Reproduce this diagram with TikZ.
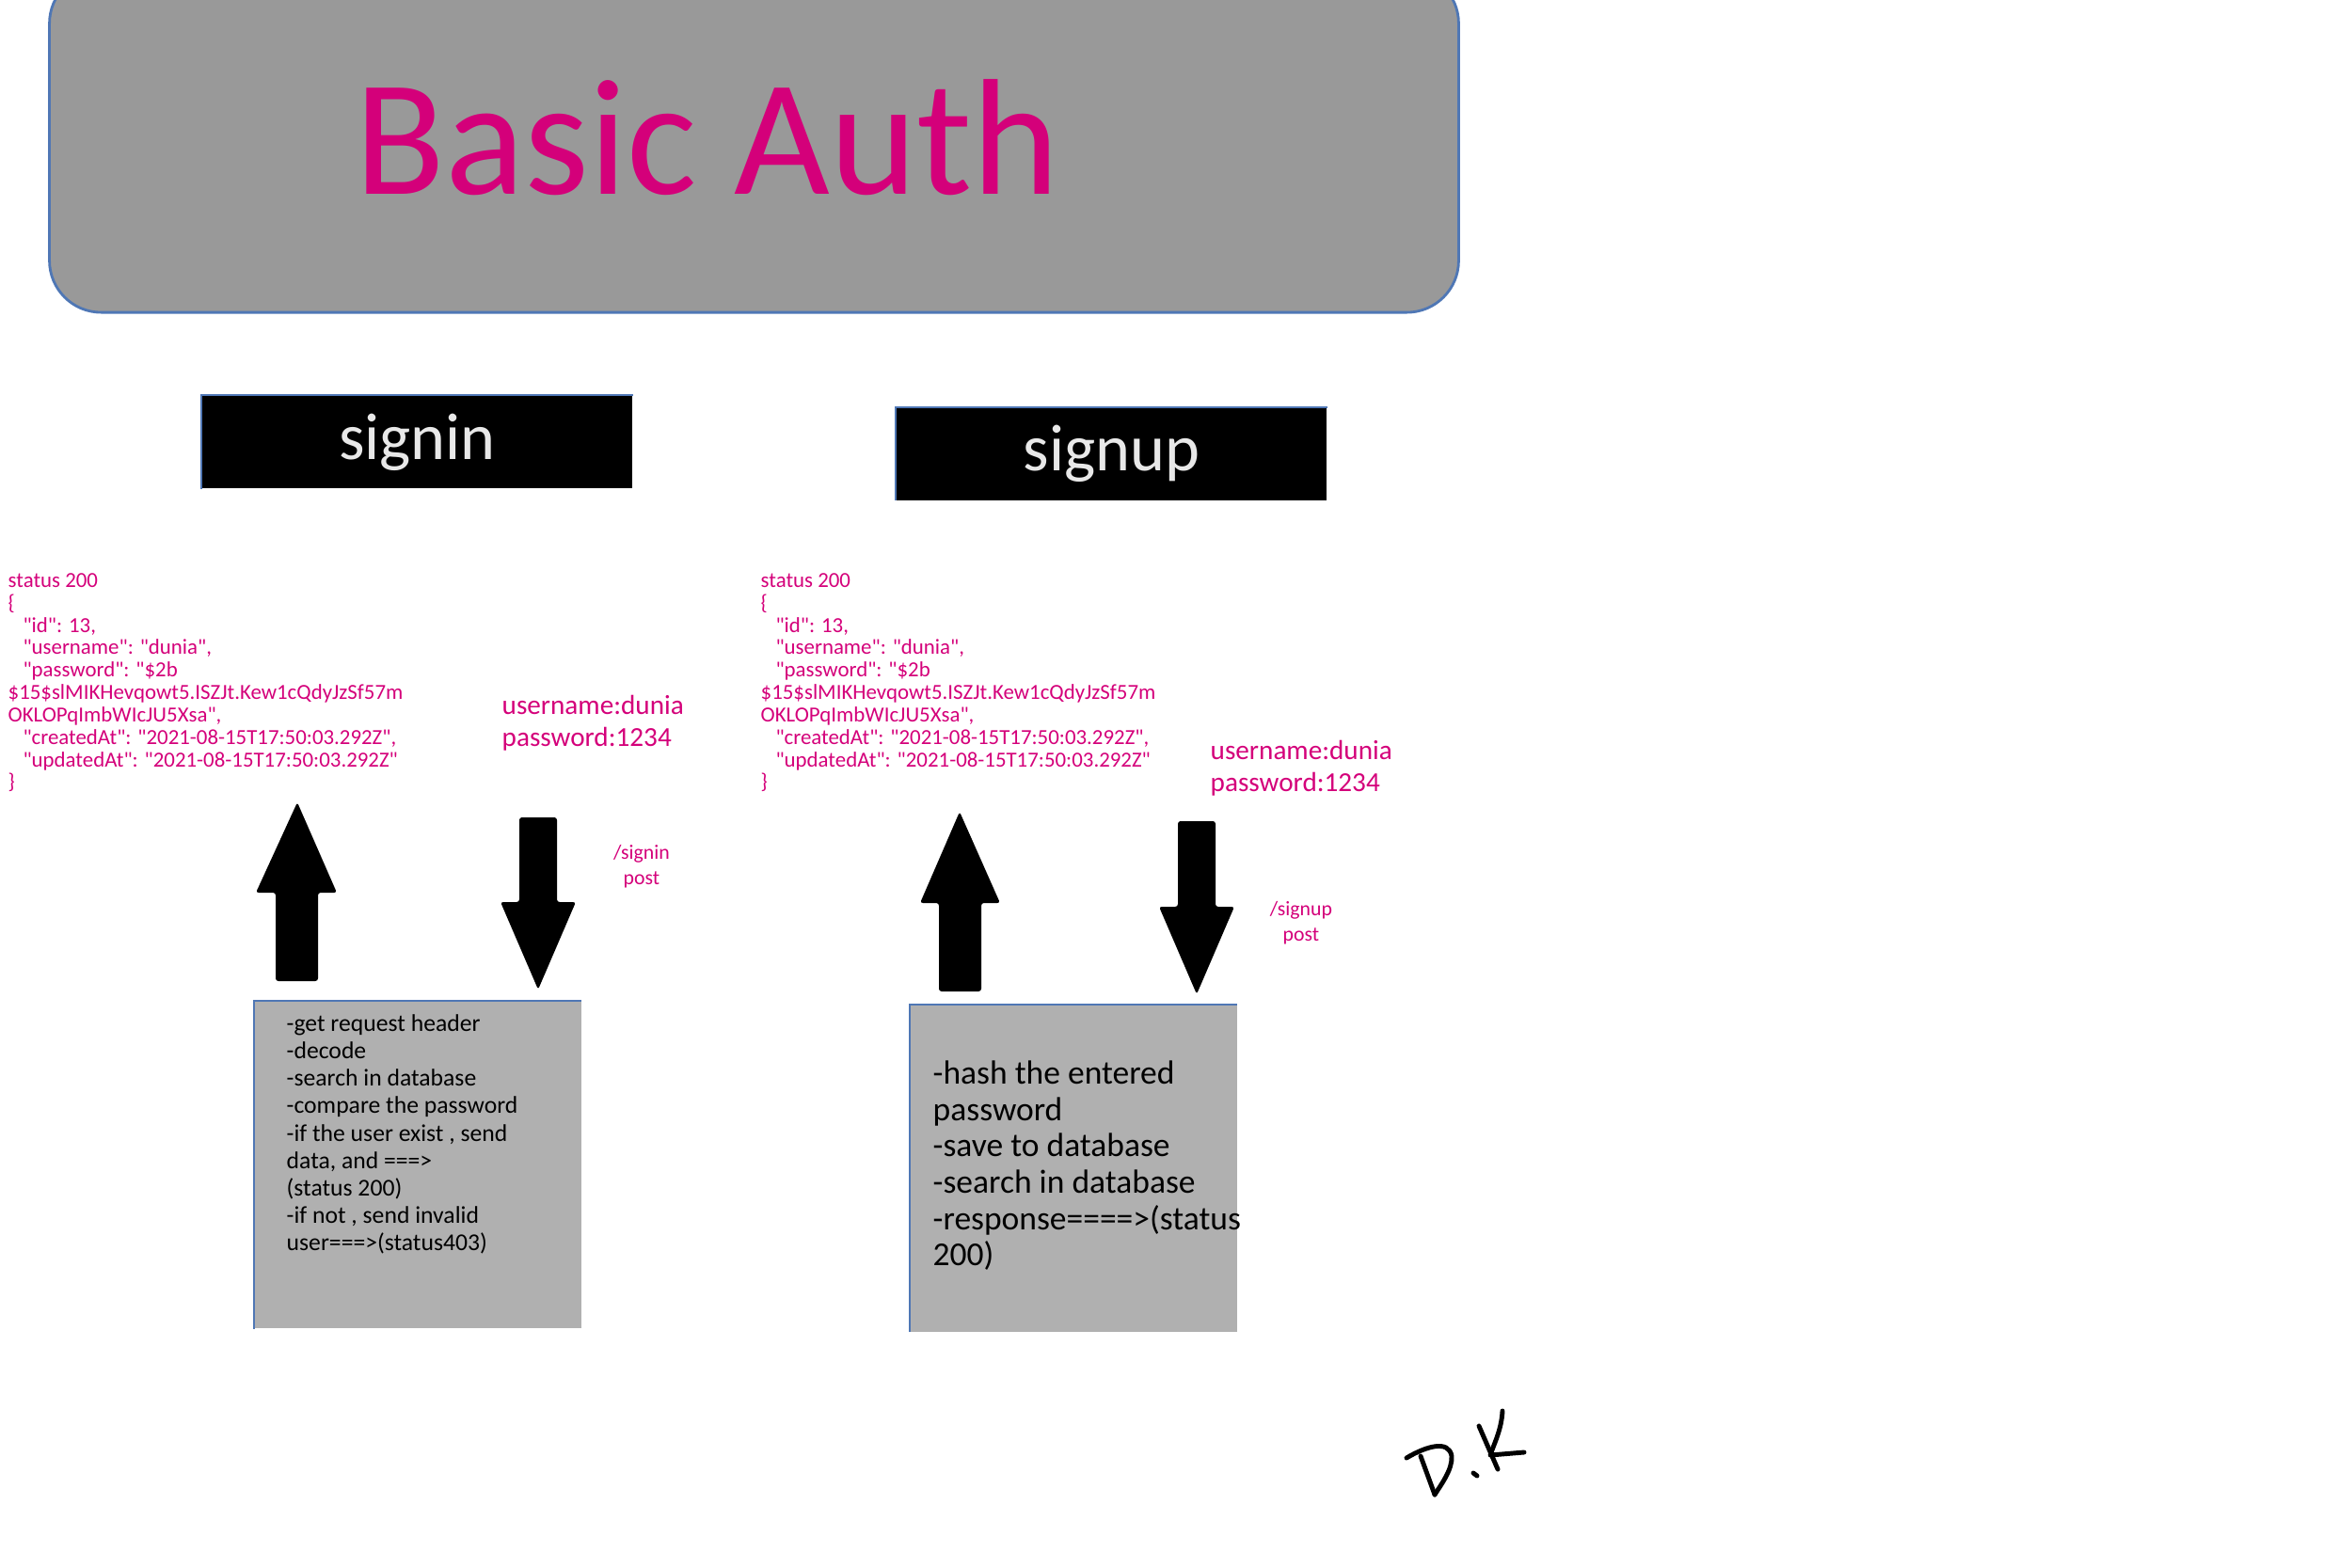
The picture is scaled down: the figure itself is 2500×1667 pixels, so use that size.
\documentclass[tikz,border=0pt]{standalone}
\usepackage{fontspec}
\setmainfont{Carlito}
\newfontfamily\jsonfont{Carlito}
\usetikzlibrary{positioning}
\definecolor{authpink}{RGB}{212,0,122}
\definecolor{titlegray}{RGB}{153,153,153}
\definecolor{boxgray}{RGB}{176,176,176}
\definecolor{edgeblue}{RGB}{79,119,181}
\definecolor{labelwhite}{RGB}{232,232,232}

\begin{document}
\begin{tikzpicture}[x=0.01cm,y=-0.01cm,
	jsontext/.style={authpink,inner sep=0,align=left,anchor=north west,font=\jsonfont\fontsize{6.5}{6.77}\selectfont},
	credtext/.style={authpink,inner sep=0,align=left,anchor=north west,font=\fontsize{8.3}{9.4}\selectfont},
	routetext/.style={authpink,inner sep=0,align=center,anchor=north,font=\fontsize{6.2}{7.5}\selectfont},
	tabbox/.style={fill=black,text=labelwhite,inner sep=0,minimum width=4.57cm,minimum height=0.98cm,font=\fontsize{20}{22}\selectfont},
	stepbox/.style={fill=boxgray,inner sep=0,minimum width=3.47cm,minimum height=3.47cm},
	blockarrow/.style={fill=black,rounded corners=0.8pt},
	edgeline/.style={edgeblue,line width=0.6pt},
	sign/.style={black,line width=1.4pt,line cap=round,line join=round}]
	\useasboundingbox (0,0) rectangle (2500,1667);
	
	%----------------------------------------------------------------
	\node(banner) [fill=titlegray,draw=edgeblue,line width=0.8pt,rounded corners=0.55cm,minimum width=14.97cm,minimum height=3.62cm] at (801.5,151) {};
	\node(title) [authpink,anchor=base,font=\fontsize{50}{52}\selectfont] at (752,207) {Basic Auth};
	
	%----------------------------------------------------------------
	\node(signin) [tabbox] at (443.5,470) {signin};
	\draw[edgeline] (signin.south west) -- (signin.north west) -- (signin.north east);
	\node(signup) [tabbox] at (1181.5,482.5) {signup};
	\draw[edgeline] (signup.south west) -- (signup.north west) -- (signup.north east);
	
	%----------------------------------------------------------------
	\node(inreply) [jsontext] at (8,609) {status 200\\
		\{\\
		\hspace*{4.5pt}"id": 13,\\
		\hspace*{4.5pt}"username": "dunia",\\
		\hspace*{4.5pt}"password": "\$2b\\
		\$15\$slMIKHevqowt5.ISZJt.Kew1cQdyJzSf57m\\
		OKLOPqImbWIcJU5Xsa",\\
		\hspace*{4.5pt}"createdAt": "2021-08-15T17:50:03.292Z",\\
		\hspace*{4.5pt}"updatedAt": "2021-08-15T17:50:03.292Z"\\
		\}};
	\node(upreply) [jsontext] at (808,609) {status 200\\
		\{\\
		\hspace*{4.5pt}"id": 13,\\
		\hspace*{4.5pt}"username": "dunia",\\
		\hspace*{4.5pt}"password": "\$2b\\
		\$15\$slMIKHevqowt5.ISZJt.Kew1cQdyJzSf57m\\
		OKLOPqImbWIcJU5Xsa",\\
		\hspace*{4.5pt}"createdAt": "2021-08-15T17:50:03.292Z",\\
		\hspace*{4.5pt}"updatedAt": "2021-08-15T17:50:03.292Z"\\
		\}};
	
	\node(increds) [credtext] at (533,739) {username:dunia\\ password:1234};
	\node(upcreds) [credtext] at (1286,787) {username:dunia\\ password:1234};
	
	\node(inroute) [routetext] at (682,898) {/signin\\ post};
	\node(uproute) [routetext] at (1383,958) {/signup\\ post};
	
	%----------------------------------------------------------------
	\fill[blockarrow] (293,1043) -- (293,949) -- (272,949) -- (316,853) -- (358,949) -- (338,949) -- (338,1043) -- cycle;
	\fill[blockarrow] (552,869) -- (592,869) -- (592,959) -- (612,959) -- (572,1052) -- (532,959) -- (552,959) -- cycle;
	\fill[blockarrow] (998,1054) -- (998,960) -- (978,960) -- (1020,863) -- (1063,960) -- (1043,960) -- (1043,1054) -- cycle;
	\fill[blockarrow] (1252,873) -- (1292,873) -- (1292,964) -- (1312,964) -- (1272,1057) -- (1232,964) -- (1252,964) -- cycle;
	
	%----------------------------------------------------------------
	\node(insteps) [stepbox] at (444,1238.5) {};
	\draw[edgeline] (insteps.south west) -- (insteps.north west) -- (insteps.north east);
	\node(inlist) [inner sep=0,align=left,anchor=north west,font=\fontsize{7.3}{8.28}\selectfont] at (304,1078) {-get request header\\
		-decode\\
		-search in database\\
		-compare the password\\
		-if the user exist , send\\
		data, and ===>\\
		(status 200)\\
		-if not , send invalid\\
		user===>(status403)};
	
	\node(upsteps) [stepbox] at (1141,1242) {};
	\draw[edgeline] (upsteps.south west) -- (upsteps.north west) -- (upsteps.north east);
	\node(uplist) [inner sep=0,align=left,anchor=north west,font=\fontsize{10.1}{11}\selectfont] at (991,1127) {-hash the entered\\
		password\\
		-save to database\\
		-search in database\\
		-response====>(status\\
		200)};
	
	%----------------------------------------------------------------
	\draw[sign] (1495,1550) .. controls (1515,1538) and (1540,1530) .. (1543,1548) .. controls (1544,1562) and (1532,1578) .. (1525,1589);
	\draw[sign] (1510,1548) -- (1525,1589);
	\draw[sign] (1566,1566) -- (1570,1569);
	\draw[sign] (1572,1516) -- (1592,1562);
	\draw[sign] (1597,1500) .. controls (1596,1520) and (1588,1535) .. (1584,1547) -- (1620,1544);
	
\end{tikzpicture}
\end{document}
